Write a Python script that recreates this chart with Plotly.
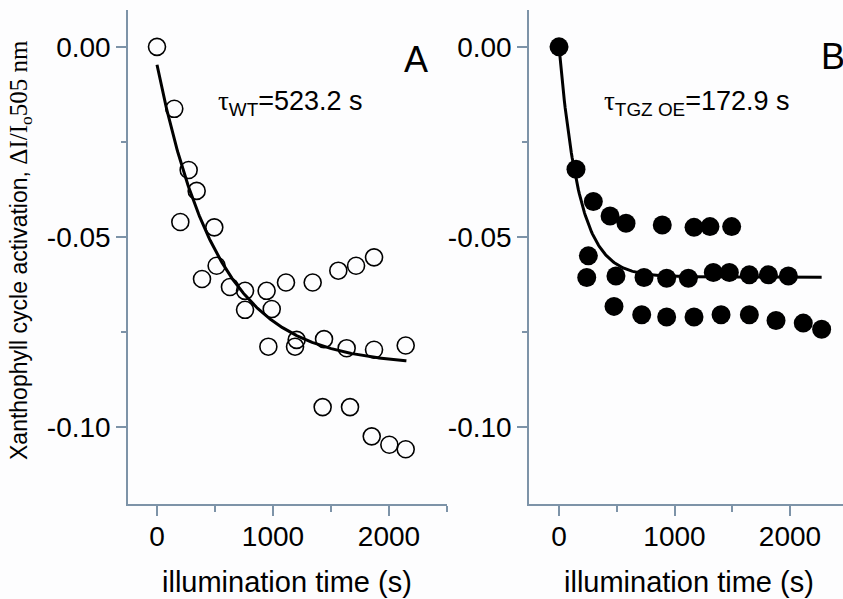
import numpy as np
import plotly.graph_objects as go

# ---- data ----
wt_time = [0, 149, 273, 342, 201, 494, 514, 388, 629, 759, 945, 1112, 1342, 1563, 1716, 1871,
           759, 989, 960, 1190, 1204, 1440, 1635, 1871, 2144, 1428, 1664, 1851, 2003, 2144]
wt_signal = [0.000, -0.0163, -0.0324, -0.0379, -0.0461, -0.0475, -0.0576, -0.0611, -0.0632, -0.0642,
             -0.0642, -0.0620, -0.0620, -0.0589, -0.0576, -0.0554,
             -0.0692, -0.0690, -0.0789, -0.0789, -0.0771, -0.0769, -0.0793, -0.0797, -0.0786,
             -0.0948, -0.0948, -0.1025, -0.1047, -0.1059]

oe_time = [0, 147, 297, 442, 580, 894, 1169, 1307, 1495, 254, 240, 493, 736, 932, 1120, 1336,
           1475, 1648, 1813, 1986, 476, 716, 932, 1169, 1403, 1648, 1879, 2115, 2274]
oe_signal = [0.000, -0.0322, -0.0407, -0.0445, -0.0464, -0.0469, -0.0475, -0.0473, -0.0473,
             -0.0550, -0.0607, -0.0603, -0.0607, -0.0609, -0.0609, -0.0594, -0.0594, -0.0600,
             -0.0600, -0.0603, -0.0683, -0.0705, -0.0711, -0.0711, -0.0705, -0.0705, -0.0720,
             -0.0727, -0.0743]

# exponential fit parameters: [tau, start value, asymptote, end time]
wt_fit = [523.2, -0.0047, -0.0839, 2150]
oe_fit = [172.9, 0.0, -0.0606, 2274]

y_tickvals = [0.0, -0.05, -0.10]
y_ticktext = ["0.00", "-0.05", "-0.10"]
x_tickvals = [0, 1000, 2000]
x_ticktext = ["0", "1000", "2000"]


def fit_curve(p):
    tau, y0, yinf, tend = p
    t = np.linspace(0, tend, 300)
    return t, yinf + (y0 - yinf) * np.exp(-t / tau)


AXC = "#7d93a8"
FONT = "Liberation Sans, Arial, sans-serif"

fig = go.Figure()
tA, yA = fit_curve(wt_fit)
tB, yB = fit_curve(oe_fit)

fig.add_trace(go.Scatter(x=tA, y=yA, mode="lines", line=dict(color="black", width=3),
                         xaxis="x", yaxis="y", showlegend=False, hoverinfo="skip"))
fig.add_trace(go.Scatter(x=wt_time, y=wt_signal, mode="markers",
                         marker=dict(symbol="circle-open", size=17, color="black",
                                     line=dict(width=1.6, color="black")),
                         xaxis="x", yaxis="y", showlegend=False))
fig.add_trace(go.Scatter(x=tB, y=yB, mode="lines", line=dict(color="black", width=3),
                         xaxis="x2", yaxis="y2", showlegend=False, hoverinfo="skip"))
fig.add_trace(go.Scatter(x=oe_time, y=oe_signal, mode="markers",
                         marker=dict(symbol="circle", size=19, color="black"),
                         xaxis="x2", yaxis="y2", showlegend=False))

W, H = 843, 599
ydom = [1 - 504 / H, 1 - 10 / H]

xcommon = dict(showgrid=False, zeroline=False, showline=True, linecolor=AXC, linewidth=1.5,
               automargin=False, ticklabelstandoff=-3,
               ticks="outside", ticklen=10, tickwidth=1.5, tickcolor=AXC,
               tickvals=x_tickvals, ticktext=x_ticktext,
               tickfont=dict(family=FONT, size=28, color="black"),
               minor=dict(tickvals=[500, 1500, 2500], ticks="outside", ticklen=6,
                          tickwidth=1.5, tickcolor=AXC))
ycommon = dict(showgrid=False, zeroline=False, showline=True, linecolor=AXC, linewidth=1.5,
               automargin=False,
               ticks="outside", ticklen=10, tickwidth=1.5, tickcolor=AXC,
               tickvals=y_tickvals, ticktext=y_ticktext, range=[-0.1203, 0.0097],
               tickfont=dict(family=FONT, size=28, color="black"),
               minor=dict(tickvals=[-0.025, -0.075], ticks="outside", ticklen=5,
                          tickwidth=1.5, tickcolor=AXC))

fig.update_layout(
    width=W, height=H,
    margin=dict(l=0, r=0, t=0, b=0, pad=0, autoexpand=False),
    paper_bgcolor="#fdfdfe", plot_bgcolor="#fdfdfe",
    xaxis=dict(xcommon, domain=[128 / W, 447 / W], range=[-250, 2500], anchor="y"),
    yaxis=dict(ycommon, domain=ydom, anchor="x"),
    xaxis2=dict(xcommon, domain=[529 / W, 1.0], range=[-260, 2459], anchor="y2"),
    yaxis2=dict(ycommon, domain=ydom, anchor="x2"),
)

ann = []
ann.append(dict(text="illumination time (s)", x=287, y=H - 582, xanchor="center",
                font=dict(family=FONT, size=29, color="black")))
ann.append(dict(text="illumination time (s)", x=689, y=H - 582, xanchor="center",
                font=dict(family=FONT, size=29, color="black")))
ann.append(dict(text="Xanthophyll cycle activation, "
                     "<span style='font-family:Liberation Serif, Times New Roman, serif;font-size:25px'>"
                     "ΔI/I<sub>o</sub>505 nm</span>",
                x=20, y=H - 250, xanchor="center", textangle=-90,
                font=dict(family=FONT, size=23, color="black")))
ann.append(dict(text="A", x=416, y=H - 59, xanchor="center",
                font=dict(family=FONT, size=36, color="black")))
ann.append(dict(text="B", x=819, y=H - 57, xanchor="left",
                font=dict(family=FONT, size=36, color="black")))
ann.append(dict(text="<span style='font-family:Liberation Serif, serif'>τ</span>"
                     "<sub>WT</sub>=523.2 s",
                x=216, y=H - 103, xanchor="left",
                font=dict(family=FONT, size=27, color="black")))
ann.append(dict(text="<span style='font-family:Liberation Serif, serif'>τ</span>"
                     "<sub>TGZ OE</sub>=172.9 s",
                x=602, y=H - 103, xanchor="left",
                font=dict(family=FONT, size=27, color="black")))

# convert pixel coordinates to paper fractions
for a in ann:
    a["x"] = a["x"] / W
    a["y"] = a["y"] / H
    a.update(xref="paper", yref="paper", showarrow=False, yanchor="middle")
fig.update_layout(annotations=ann)

fig.write_html("out.html", config={"displayModeBar": False},
               post_script="document.body.style.margin='0';document.body.style.overflow='hidden';")
